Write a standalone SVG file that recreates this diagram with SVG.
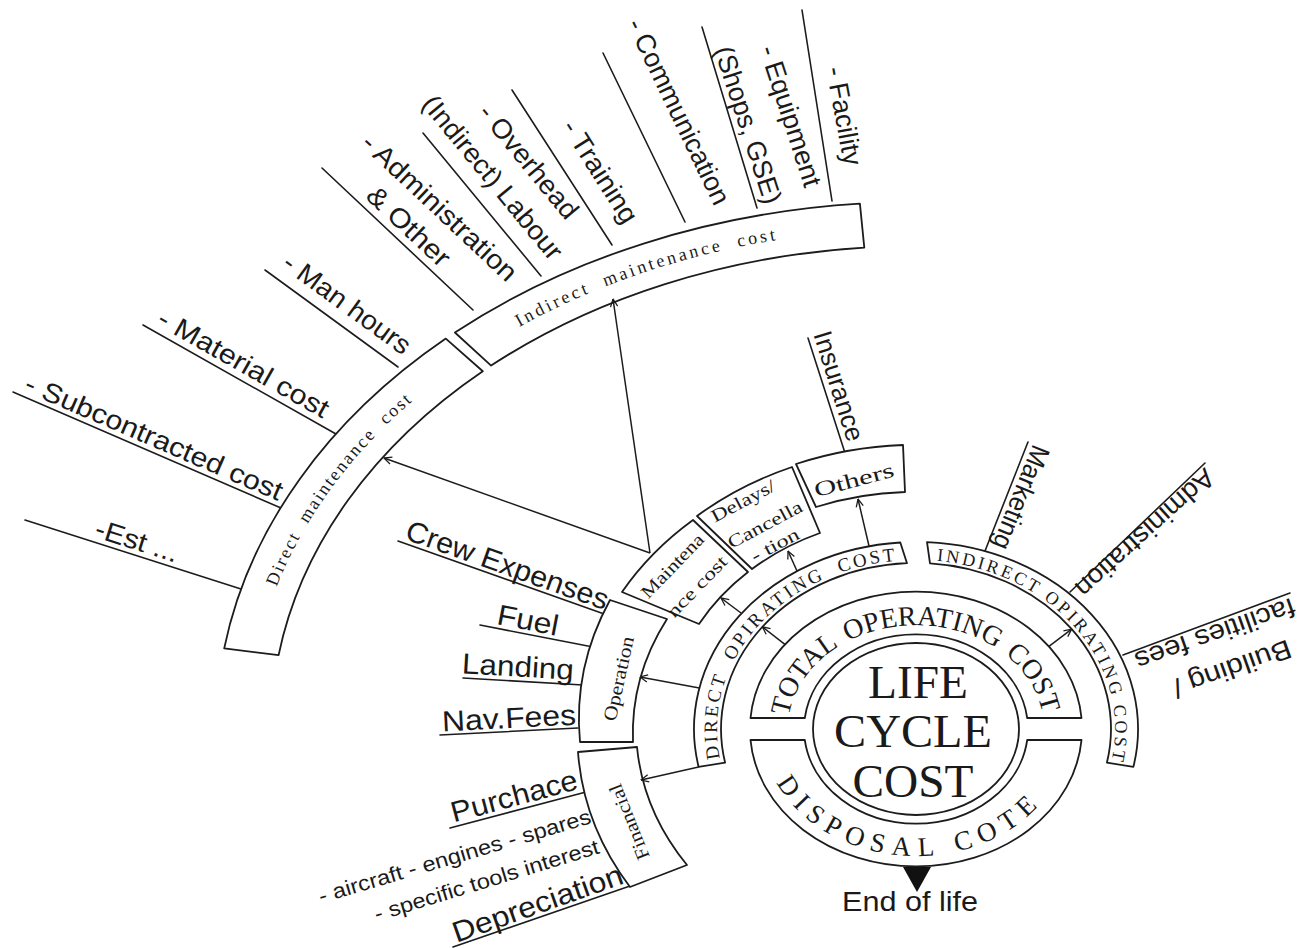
<svg xmlns="http://www.w3.org/2000/svg" width="1309" height="948" viewBox="0 0 1309 948">
<defs>
<style>
.ln{stroke:#1c1c1c;stroke-width:1.6;fill:none;stroke-linecap:round}
.bx{fill:#fff;stroke:#1c1c1c;stroke-width:1.8;stroke-linejoin:round}
.sans{font-family:"Liberation Sans",Arial,sans-serif;fill:#1a1a1a}
.ser{font-family:"Liberation Serif","Times New Roman",serif;fill:#1a1a1a}
.c{text-anchor:middle;dominant-baseline:central}
.lf{font-size:27px}
.lh{font-size:29px}
.sm{font-size:21px}
.arr{stroke:#1c1c1c;stroke-width:1.5;fill:none;marker-end:url(#ah)}
</style>
<marker id="ah" viewBox="0 0 10 10" refX="9.5" refY="5" markerWidth="9" markerHeight="9" markerUnits="userSpaceOnUse" orient="auto">
<path d="M1,1 L9.5,5 L1,9" fill="none" stroke="#1c1c1c" stroke-width="1.4"/>
</marker>
<!-- baselines for the curved captions -->
<path id="p-toc" d="M789,716.3 A128 104 0 0 1 1043,716.3"/>
<path id="p-disp" d="M776.4,782.7 A154 127 0 0 0 1046.6,796.3"/>
<path id="p-dir" d="M720,758.3 A199 169 0 0 1 898.7,560.6"/>
<path id="p-ind" d="M936.8,560.9 A199 169 0 0 1 1112,758.3"/>
<path id="p-dmc" d="M276.5,587 A667 500 0 0 1 436.2,381.6"/>
<path id="p-imc" d="M519.3,327 A667 500 0 0 1 811.7,235.1"/>
</defs>
<rect width="1309" height="948" fill="#fff"/>

<!-- direct maintenance items -->
<g id="item-est"><line class="ln" x1="25" y1="520" x2="241" y2="589"/>
<text class="sans c lf" transform="translate(137 541) rotate(17.7)" textLength="86" lengthAdjust="spacingAndGlyphs">-Est ...</text></g>
<g id="item-subcontracted"><line class="ln" x1="13" y1="392" x2="281" y2="508"/>
<text class="sans c lf" transform="translate(154 437.5) rotate(23.4)" textLength="278" lengthAdjust="spacingAndGlyphs">- Subcontracted cost</text></g>
<g id="item-material"><line class="ln" x1="143" y1="325" x2="336" y2="434"/>
<text class="sans c lf" transform="translate(243.5 363.5) rotate(29.5)" textLength="192" lengthAdjust="spacingAndGlyphs">- Material cost</text></g>
<g id="item-manhours"><line class="ln" x1="265" y1="270" x2="398" y2="367"/>
<text class="sans c lf" transform="translate(347 304) rotate(36.1)" textLength="151" lengthAdjust="spacingAndGlyphs">- Man hours</text></g>

<!-- indirect maintenance items -->
<g id="item-administration"><line class="ln" x1="322" y1="168" x2="473" y2="310"/>
<text class="sans c lf" transform="translate(439.5 207.5) rotate(43.2)" textLength="202" lengthAdjust="spacingAndGlyphs">- Administration</text>
<text class="sans c lf" transform="translate(408.5 226.5) rotate(43.2)" textLength="104" lengthAdjust="spacingAndGlyphs">&amp; Other</text></g>
<g id="item-overhead"><line class="ln" x1="423" y1="133" x2="541" y2="276"/>
<text class="sans c lf" transform="translate(528.5 161.5) rotate(50.5)" textLength="140" lengthAdjust="spacingAndGlyphs">- Overhead</text>
<text class="sans c lf" transform="translate(492.5 177.5) rotate(50.5)" textLength="204" lengthAdjust="spacingAndGlyphs">(Indirect) Labour</text></g>
<g id="item-training"><line class="ln" x1="512" y1="90" x2="612" y2="245"/>
<text class="sans c lf" transform="translate(600 171.5) rotate(57.5)" textLength="117" lengthAdjust="spacingAndGlyphs">- Training</text></g>
<g id="item-communication"><line class="ln" x1="603" y1="53" x2="685" y2="222"/>
<text class="sans c lf" transform="translate(678.5 111.5) rotate(64.3)" textLength="203" lengthAdjust="spacingAndGlyphs">- Communication</text></g>
<g id="item-equipment"><line class="ln" x1="702" y1="27" x2="757" y2="208"/>
<text class="sans c lf" transform="translate(790.5 116) rotate(72)" textLength="147" lengthAdjust="spacingAndGlyphs">- Equipment</text>
<text class="sans c lf" transform="translate(748 125) rotate(72)" textLength="164" lengthAdjust="spacingAndGlyphs">(Shops, GSE)</text></g>
<g id="item-facility"><line class="ln" x1="802" y1="10" x2="832" y2="201"/>
<text class="sans c lf" transform="translate(844 116) rotate(79.5)" textLength="100" lengthAdjust="spacingAndGlyphs">- Facility</text></g>

<!-- operation items -->
<g id="item-crew"><line class="ln" x1="398" y1="541" x2="607" y2="615"/>
<text class="sans c lh" transform="translate(507.5 565) rotate(19.6)" textLength="213" lengthAdjust="spacingAndGlyphs">Crew Expenses</text></g>
<g id="item-fuel"><line class="ln" x1="480" y1="625" x2="593" y2="647"/>
<text class="sans c lh" transform="translate(528 620) rotate(11)" textLength="62" lengthAdjust="spacingAndGlyphs">Fuel</text></g>
<g id="item-landing"><line class="ln" x1="463" y1="678" x2="583" y2="685"/>
<text class="sans c lh" transform="translate(518 666.5) rotate(3.4)" textLength="112" lengthAdjust="spacingAndGlyphs">Landing</text></g>
<g id="item-navfees"><line class="ln" x1="440" y1="735" x2="578" y2="728"/>
<text class="sans c lh" transform="translate(509 718) rotate(-2.9)" textLength="134" lengthAdjust="spacingAndGlyphs">Nav.Fees</text></g>

<!-- financial items -->
<g id="item-purchase"><line class="ln" x1="450" y1="828" x2="586" y2="792"/>
<text class="sans c lh" transform="translate(514 796) rotate(-15)" textLength="130" lengthAdjust="spacingAndGlyphs">Purchace</text>
<text class="sans c sm" transform="translate(454.5 856) rotate(-16.5)" textLength="283" lengthAdjust="spacingAndGlyphs">- aircraft - engines - spares</text>
<text class="sans c sm" transform="translate(486.5 880) rotate(-17)" textLength="234" lengthAdjust="spacingAndGlyphs">- specific tools interest</text></g>
<g id="item-depreciation"><line class="ln" x1="453" y1="947" x2="630" y2="886"/>
<text class="sans c lh" transform="translate(537.5 903.5) rotate(-19.5)" textLength="179" lengthAdjust="spacingAndGlyphs">Depreciation</text></g>

<!-- others / indirect operating items -->
<g id="item-insurance"><line class="ln" x1="808" y1="338" x2="845" y2="453"/>
<text class="sans c" font-size="26" transform="translate(839 386) rotate(72.6)" textLength="114" lengthAdjust="spacingAndGlyphs">Insurance</text></g>
<g id="item-marketing"><line class="ln" x1="985" y1="551" x2="1028" y2="442"/>
<text class="sans c lf" transform="translate(1021 497.5) rotate(112)" textLength="110" lengthAdjust="spacingAndGlyphs">Marketing</text></g>
<g id="item-administration-r"><line class="ln" x1="1070" y1="592" x2="1205" y2="463"/>
<text class="sans c lf" transform="translate(1145 533) rotate(138)" textLength="177" lengthAdjust="spacingAndGlyphs">Administration</text></g>
<g id="item-building"><line class="ln" x1="1123" y1="655" x2="1290" y2="593"/>
<text class="sans c lf" transform="translate(1215 634) rotate(160.5)" textLength="168" lengthAdjust="spacingAndGlyphs">facilities fees</text>
<text class="sans c lf" transform="translate(1232 668.5) rotate(160.5)" textLength="124" lengthAdjust="spacingAndGlyphs">Building /</text></g>

<!-- maintenance bands -->
<g id="direct-maintenance">
<path class="bx" d="M224.2,648.4 A700 527 0 0 1 445.8,338.6 L482.8,371.2 A645 483 0 0 0 278.6,655.1 Z"/>
<text class="ser" font-size="18"><textPath href="#p-dmc" textLength="55.2" lengthAdjust="spacing">Direct</textPath></text>
<text class="ser" font-size="18"><textPath href="#p-dmc" startOffset="70.3" textLength="111.4" lengthAdjust="spacing">maintenance</textPath></text>
<text class="ser" font-size="18"><textPath href="#p-dmc" startOffset="196.8" textLength="35.1" lengthAdjust="spacing">cost</textPath></text>
</g>
<g id="indirect-maintenance">
<path class="bx" d="M454.9,332.5 A700 527 0 0 1 859.9,203.7 L864.3,247.6 A645 483 0 0 0 491.1,365.6 Z"/>
<text class="ser" font-size="18"><textPath href="#p-imc" textLength="77" lengthAdjust="spacing">Indirect</textPath></text>
<text class="ser" font-size="18"><textPath href="#p-imc" startOffset="95" textLength="121" lengthAdjust="spacing">maintenance</textPath></text>
<text class="ser" font-size="18"><textPath href="#p-imc" startOffset="234" textLength="38" lengthAdjust="spacing">cost</textPath></text>
</g>

<!-- cost category boxes -->
<g id="operation">
<path class="bx" d="M580,742 A336 284 0 0 1 610,600 L667,619 A283 241 0 0 0 633,742 Z"/>
<text class="ser c" font-size="19" transform="translate(618.5 678.5) rotate(-77.5)" textLength="86" lengthAdjust="spacingAndGlyphs">Operation</text>
</g>
<g id="financial">
<path class="bx" d="M578,752 A336 284 0 0 0 630,887 L687,865 A283 241 0 0 1 637,747 Z"/>
<text class="ser c" font-size="19" transform="translate(629 822) rotate(-111.8)" textLength="80" lengthAdjust="spacingAndGlyphs">Financial</text>
</g>
<g id="maintenance-cost">
<path class="bx" d="M622,592 A336 284 0 0 1 693,520 L748,572 A251 212 0 0 0 699,624 Z"/>
<text class="ser c" font-size="18" transform="translate(672.5 565.8) rotate(-46)" textLength="82" lengthAdjust="spacingAndGlyphs">Maintena</text>
<text class="ser c" font-size="18" transform="translate(697 586.5) rotate(-46)" textLength="78" lengthAdjust="spacingAndGlyphs">nce cost</text>
</g>
<g id="delays">
<path class="bx" d="M697,516 A336 284 0 0 1 792,467 L820,533 A251 212 0 0 0 752,569 Z"/>
<text class="ser c" font-size="18" transform="translate(743 501) rotate(-28)" textLength="70" lengthAdjust="spacingAndGlyphs">Delays/</text>
<text class="ser c" font-size="18" transform="translate(765 524.5) rotate(-28)" textLength="82" lengthAdjust="spacingAndGlyphs">Cancella</text>
<text class="ser c" font-size="18" transform="translate(775 545) rotate(-28)" textLength="52" lengthAdjust="spacingAndGlyphs">- tion</text>
</g>
<g id="others">
<path class="bx" d="M796,464 A336 284 0 0 1 903,445 L905,492 A280 237 0 0 0 816,507 Z"/>
<text class="ser c" font-size="21" transform="translate(854 480) rotate(-15)" textLength="82" lengthAdjust="spacingAndGlyphs">Others</text>
</g>

<!-- operating cost rings -->
<g id="direct-operating-cost">
<path class="bx" d="M698.6,766.9 A222 187 0 0 1 900.3,542.5 L907,563.2 A195 166 0 0 0 725.1,762.7 Z"/>
<text class="ser" font-size="19"><textPath href="#p-dir" textLength="82.1" lengthAdjust="spacing">DIRECT</textPath></text>
<text class="ser" font-size="19"><textPath href="#p-dir" startOffset="99.7" textLength="124" lengthAdjust="spacing">OPIRATING</textPath></text>
<text class="ser" font-size="19"><textPath href="#p-dir" startOffset="241.3" textLength="56.7" lengthAdjust="spacing">COST</textPath></text>
</g>
<g id="indirect-operating-cost">
<path class="bx" d="M927,542.2 A222 187 0 0 1 1133.4,766.9 L1106.9,762.7 A195 166 0 0 0 930,563.4 Z"/>
<text class="ser" font-size="18"><textPath href="#p-ind" textLength="104.3" lengthAdjust="spacing">INDIRECT</textPath></text>
<text class="ser" font-size="18"><textPath href="#p-ind" startOffset="114.6" textLength="120.2" lengthAdjust="spacing">OPIRATING</textPath></text>
<text class="ser" font-size="18"><textPath href="#p-ind" startOffset="245.1" textLength="54.7" lengthAdjust="spacing">COST</textPath></text>
</g>
<g id="total-operating-cost">
<path class="bx" d="M750.5,718 A166 137 0 0 1 1081.5,718 L1027.2,718 A112 95 0 0 0 804.8,718 Z"/>
<text class="ser" font-size="28"><textPath href="#p-toc">TOTAL</textPath></text>
<text class="ser" font-size="28"><textPath href="#p-toc" startOffset="98.8">OPERATING</textPath></text>
<text class="ser" font-size="28"><textPath href="#p-toc" startOffset="264.4">COST</textPath></text>
</g>
<g id="disposal-cost">
<path class="bx" d="M750.5,740 A166 137 0 0 0 1081.5,740 L1027.2,740 A112 95 0 0 1 804.8,740 Z"/>
<text class="ser" font-size="27"><textPath href="#p-disp" textLength="183.6" lengthAdjust="spacing">DISPOSAL</textPath></text>
<text class="ser" font-size="27"><textPath href="#p-disp" startOffset="206" textLength="94" lengthAdjust="spacing">COTE</textPath></text>
</g>
<g id="life-cycle-cost">
<ellipse class="bx" cx="916" cy="729" rx="103" ry="86"/>
<text class="ser" font-size="46" text-anchor="middle" x="918" y="698" textLength="100" lengthAdjust="spacingAndGlyphs">LIFE</text>
<text class="ser" font-size="46" text-anchor="middle" x="913" y="747" textLength="158" lengthAdjust="spacingAndGlyphs">CYCLE</text>
<text class="ser" font-size="46" text-anchor="middle" x="913" y="797" textLength="121" lengthAdjust="spacingAndGlyphs">COST</text>
</g>
<g id="end-of-life">
<polygon points="903,867 931,867 917,892" fill="#111"/>
<text class="sans" font-size="27" text-anchor="middle" x="910" y="911" textLength="136" lengthAdjust="spacingAndGlyphs">End of life</text>
</g>

<!-- roll-up arrows -->
<g id="connectors">
<line class="arr" x1="785.2" y1="644.6" x2="762.3" y2="626.8"/>
<line class="arr" x1="1048.6" y1="646.6" x2="1071.7" y2="629.1"/>
<line class="arr" x1="699.4" y1="688" x2="640" y2="677"/>
<line class="arr" x1="698.6" y1="766.9" x2="641" y2="780"/>
<line class="arr" x1="741" y1="613" x2="721" y2="598"/>
<line class="arr" x1="797" y1="571" x2="788" y2="551"/>
<line class="arr" x1="869" y1="546" x2="858" y2="499"/>
<line class="arr" x1="650" y1="553" x2="384" y2="458"/>
<line class="arr" x1="650" y1="553" x2="613" y2="299"/>
</g>
</svg>
